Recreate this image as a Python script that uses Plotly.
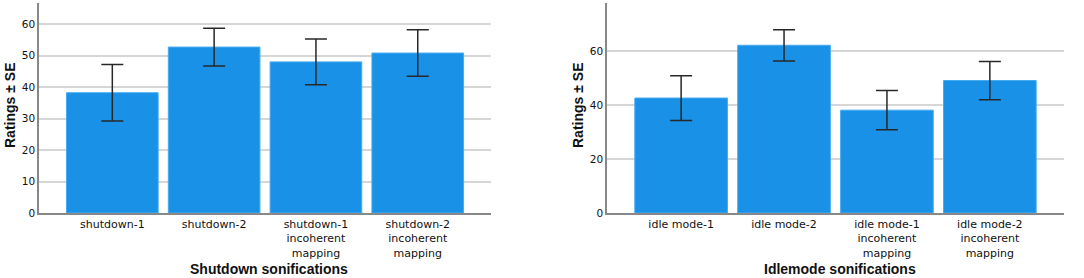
import plotly.graph_objects as go

shut_cats = ["shutdown-1", "shutdown-2", "shutdown-1<br>incoherent<br>mapping", "shutdown-2<br>incoherent<br>mapping"]
shut_means = [38.2, 52.7, 48.0, 50.8]
shut_se = [9.0, 6.0, 7.3, 7.4]

idle_cats = ["idle mode-1", "idle mode-2", "idle mode-1<br>incoherent<br>mapping", "idle mode-2<br>incoherent<br>mapping"]
idle_means = [42.7, 62.3, 38.2, 49.2]
idle_se = [8.3, 5.8, 7.3, 7.1]

BAR = "rgb(24,145,230)"
EDGE = "rgb(70,170,240)"
ERR = "rgb(40,40,40)"
FONT = "DejaVu Sans, sans-serif"
TFONT = "Liberation Sans, Arial, sans-serif"

fig = go.Figure()
fig.add_trace(go.Bar(x=shut_cats, y=shut_means,
                     error_y=dict(type="data", array=shut_se, color=ERR, thickness=1.5, width=11),
                     marker=dict(color=BAR, line=dict(color=EDGE, width=1)),
                     xaxis="x", yaxis="y", showlegend=False))
fig.add_trace(go.Bar(x=idle_cats, y=idle_means,
                     error_y=dict(type="data", array=idle_se, color=ERR, thickness=1.5, width=11),
                     marker=dict(color=BAR, line=dict(color=EDGE, width=1)),
                     xaxis="x2", yaxis="y2", showlegend=False))

xcommon = dict(showline=True, linecolor="#888", linewidth=1.5, ticks="", showgrid=False,
               tickfont=dict(family=FONT, size=11, color="#111"), range=[-0.72, 3.72],
               automargin=False)
ycommon = dict(showline=True, linecolor="#888", linewidth=1.5, ticks="", showgrid=True,
               gridcolor="#d6d6d6", gridwidth=1.5, zeroline=False, automargin=False,
               tickfont=dict(family=FONT, size=10.5, color="#111"))

fig.update_layout(
    width=1084, height=278,
    margin=dict(l=0, r=0, t=3, b=65, autoexpand=False),
    paper_bgcolor="white", plot_bgcolor="white",
    bargap=0.1,
    xaxis=dict(domain=[0.036, 0.453], anchor="y", **xcommon),
    yaxis=dict(domain=[0, 1], anchor="x", range=[0, 66.7], dtick=10, **ycommon),
    xaxis2=dict(domain=[0.560, 0.9815], anchor="y2", **xcommon),
    yaxis2=dict(domain=[0, 1], anchor="x2", range=[0, 78], dtick=20, **ycommon),
)

tf = dict(family=TFONT, size=14, color="#111")
fig.add_annotation(text="<b>Shutdown sonifications</b>", xref="paper", yref="paper",
                   x=269 / 1084, y=(213 - 269) / 210, showarrow=False, font=tf,
                   xanchor="center", yanchor="middle")
fig.add_annotation(text="<b>Idlemode sonifications</b>", xref="paper", yref="paper",
                   x=840 / 1084, y=(213 - 269) / 210, showarrow=False, font=tf,
                   xanchor="center", yanchor="middle")
fig.add_annotation(text="<b>Ratings ± SE</b>", xref="paper", yref="paper",
                   x=10 / 1084, y=(213 - 106) / 210, showarrow=False, font=tf,
                   textangle=-90, xanchor="center", yanchor="middle")
fig.add_annotation(text="<b>Ratings ± SE</b>", xref="paper", yref="paper",
                   x=578 / 1084, y=(213 - 106) / 210, showarrow=False, font=tf,
                   textangle=-90, xanchor="center", yanchor="middle")

fig.write_html("out.html", config={"displayModeBar": False},
               post_script="document.body.style.margin='0';document.body.style.overflow='hidden';")
